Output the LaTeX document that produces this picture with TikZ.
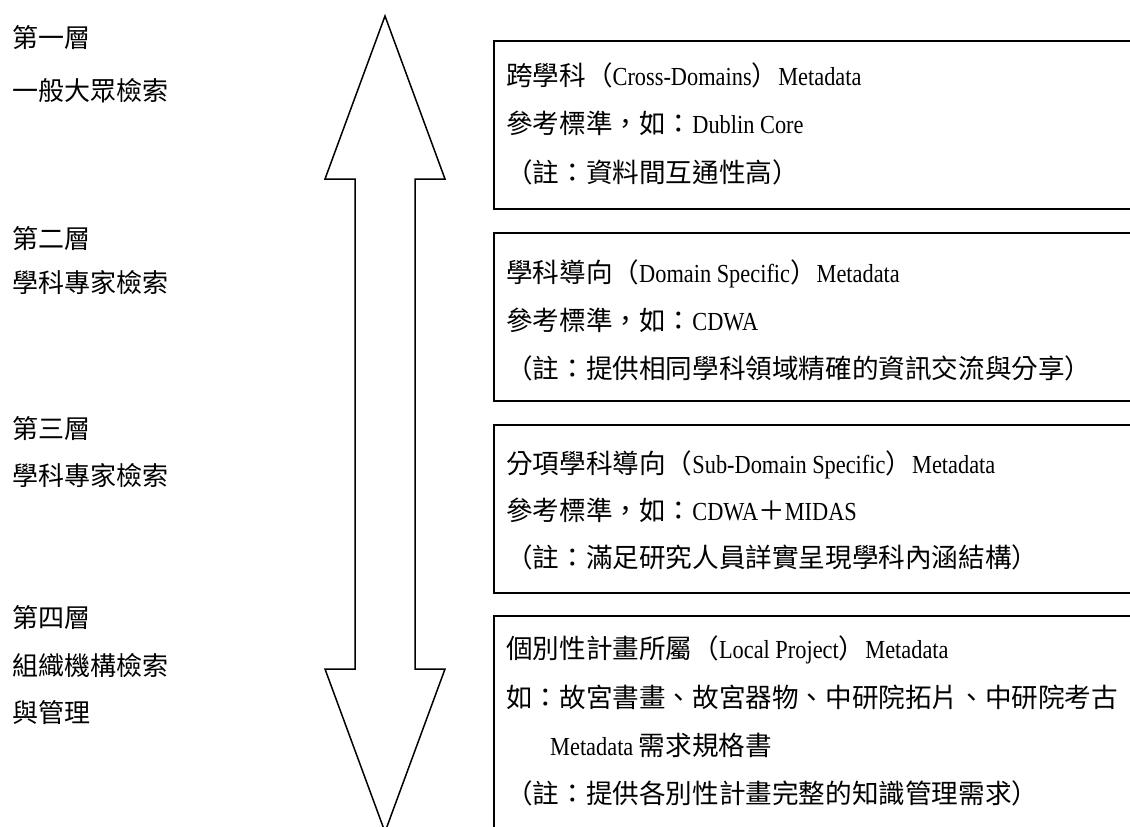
\documentclass[tikz,border=0pt]{standalone}
\usepackage{fontspec}
\setmainfont[FakeStretch=0.86]{Liberation Serif}
\newfontfamily\cjk{Noto Sans CJK TC}
\newcommand\zh[1]{{\cjk\fontsize{26.6}{30}\selectfont #1}}
\newcommand\zl[1]{{\cjk\fontsize{26}{30}\selectfont #1}}
\begin{document}
\begin{tikzpicture}[x=1pt,y=-1pt,
  txt/.style={anchor=base west,inner sep=0pt,font=\fontsize{26}{30}\selectfont},
  frame/.style={draw,line width=1.5pt,anchor=north west,inner sep=0pt,minimum width=680pt,minimum height=168pt},
  bigarrow/.style={draw,line width=1.5pt,line join=miter,fill=white}]
\clip (0,0) rectangle (1130,827);
\fill[white] (0,0) rectangle (1130,827);
% double arrow
\draw[bigarrow] (385,16) -- (445,179) -- (415,179) -- (415,669) -- (445,669) -- (385,832)
  -- (325,669) -- (355,669) -- (355,179) -- (325,179) -- cycle;
% left labels
\node[txt] (l1a) at (12,47) {\zl{第一層}};
\node[txt] (l1b) at (12,100) {\zl{一般大眾檢索}};
\node[txt] (l2a) at (12,248) {\zl{第二層}};
\node[txt] (l2b) at (12,292) {\zl{學科專家檢索}};
\node[txt] (l3a) at (12,438) {\zl{第三層}};
\node[txt] (l3b) at (12,485) {\zl{學科專家檢索}};
\node[txt] (l4a) at (12,627) {\zl{第四層}};
\node[txt] (l4b) at (12,675) {\zl{組織機構檢索}};
\node[txt] (l4c) at (12,722) {\zl{與管理}};
% frames
\node[frame] (f1) at (493,40) {};
\node[frame] (f2) at (493,232) {};
\node[frame] (f3) at (493,424) {};
\node[frame,minimum height=240pt] (f4) at (493,615) {};
% box 1
\node[txt] (t11) at (506,85) {\zh{跨學科（}Cross-Domains\zh{）}Metadata};
\node[txt] (t12) at (506,133) {\zh{參考標準，如：}Dublin Core};
\node[txt] (t13) at (506,182) {\zh{（註：資料間互通性高）}};
% box 2
\node[txt] (t21) at (506,282) {\zh{學科導向（}Domain Specific\zh{）}Metadata};
\node[txt] (t22) at (506,330) {\zh{參考標準，如：}CDWA};
\node[txt] (t23) at (506,378) {\zh{（註：提供相同學科領域精確的資訊交流與分享）}};
% box 3
\node[txt] (t31) at (506,473) {\zh{分項學科導向（}Sub-Domain Specific\zh{）}Metadata};
\node[txt] (t32) at (506,520) {\zh{參考標準，如：}CDWA\zh{＋}MIDAS};
\node[txt] (t33) at (506,567) {\zh{（註：滿足研究人員詳實呈現學科內涵結構）}};
% box 4
\node[txt] (t41) at (506,658) {\zh{個別性計畫所屬（}Local Project\zh{）}Metadata};
\node[txt] (t42) at (506,707) {\zh{如：故宮書畫、故宮器物、中研院拓片、中研院考古}};
\node[txt] (t43) at (550,755) {Metadata \zh{需求規格書}};
\node[txt] (t44) at (506,803) {\zh{（註：提供各別性計畫完整的知識管理需求）}};
\end{tikzpicture}
\end{document}
